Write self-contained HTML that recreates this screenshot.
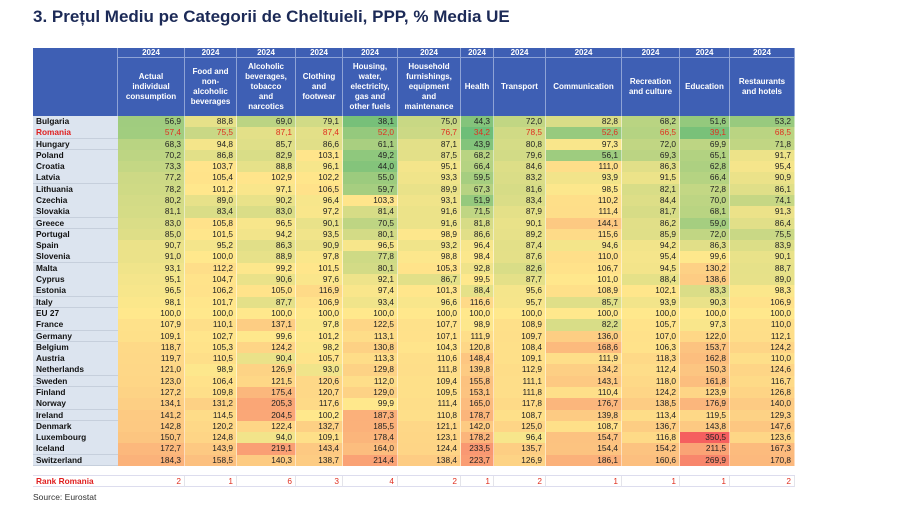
<!DOCTYPE html>
<html><head><meta charset="utf-8">
<style>
body{margin:0;width:900px;height:506px;background:#fff;position:relative;overflow:hidden;font-family:"Liberation Sans",sans-serif;}
.c{position:absolute;box-sizing:border-box;font-size:8.3px;line-height:11.3px;white-space:nowrap;overflow:hidden;}
.h{background:#3e5fb4;color:#fff;font-weight:bold;text-align:center;border-right:1px solid #8ea3d6;display:flex;align-items:center;justify-content:center;line-height:10px;font-size:8px;}
.n{background:#dce4ef;font-weight:bold;color:#111;padding-left:3px;border-bottom:1px solid #c6cfdc;}
.v{text-align:right;padding-right:3px;color:#222;border-right:1px solid rgba(255,255,255,0.5);}
#title{position:absolute;left:33px;top:7px;font-size:17px;font-weight:bold;color:#1c2a57;}
#src{position:absolute;left:33px;top:492px;font-size:8.5px;color:#333;}
</style></head><body>
<div id="title">3. Prețul Mediu pe Categorii de Cheltuieli, PPP, % Media UE</div>
<div id="t"></div>
<div id="src">Source: Eurostat</div>
<script>
var W=[85,67,52,59,47,55,63,33,52,76,58,50,65];
var H=["Actual<br>individual<br>consumption","Food and<br>non-<br>alcoholic<br>beverages","Alcoholic<br>beverages,<br>tobacco<br>and<br>narcotics","Clothing<br>and<br>footwear","Housing,<br>water,<br>electricity,<br>gas and<br>other fuels","Household<br>furnishings,<br>equipment<br>and<br>maintenance","Health","Transport","Communication","Recreation<br>and culture","Education","Restaurants<br>and hotels"];
var D=`Bulgaria 56,9 88,8 69,0 79,1 38,1 75,0 44,3 72,0 82,8 68,2 51,6 53,2
Romania 57,4 75,5 87,1 87,4 52,0 76,7 34,2 78,5 52,6 66,5 39,1 68,5
Hungary 68,3 94,8 85,7 86,6 61,1 87,1 43,9 80,8 97,3 72,0 69,9 71,8
Poland 70,2 86,8 82,9 103,1 49,2 87,5 68,2 79,6 56,1 69,3 65,1 91,7
Croatia 73,3 103,7 88,8 96,1 44,0 95,1 66,4 84,6 111,0 86,3 62,8 95,4
Latvia 77,2 105,4 102,9 102,2 55,0 93,3 59,5 83,2 93,9 91,5 66,4 90,9
Lithuania 78,2 101,2 97,1 106,5 59,7 89,9 67,3 81,6 98,5 82,1 72,8 86,1
Czechia 80,2 89,0 90,2 96,4 103,3 93,1 51,9 83,4 110,2 84,4 70,0 74,1
Slovakia 81,1 83,4 83,0 97,2 81,4 91,6 71,5 87,9 111,4 81,7 68,1 91,3
Greece 83,0 105,8 96,5 90,1 70,5 91,6 81,8 90,1 144,1 86,2 59,0 86,4
Portugal 85,0 101,5 94,2 93,5 80,1 98,9 86,6 89,2 115,6 85,9 72,0 75,5
Spain 90,7 95,2 86,3 90,9 96,5 93,2 96,4 87,4 94,6 94,2 86,3 83,9
Slovenia 91,0 100,0 88,9 97,8 77,8 98,8 98,4 87,6 110,0 95,4 99,6 90,1
Malta 93,1 112,2 99,2 101,5 80,1 105,3 92,8 82,6 106,7 94,5 130,2 88,7
Cyprus 95,1 104,7 90,6 97,6 92,1 86,7 99,5 87,7 101,0 88,4 138,6 89,0
Estonia 96,5 106,2 105,0 116,9 97,4 101,3 88,4 95,6 108,9 102,1 83,3 98,3
Italy 98,1 101,7 87,7 106,9 93,4 96,6 116,6 95,7 85,7 93,9 90,3 106,9
EU_27 100,0 100,0 100,0 100,0 100,0 100,0 100,0 100,0 100,0 100,0 100,0 100,0
France 107,9 110,1 137,1 97,8 122,5 107,7 98,9 108,9 82,2 105,7 97,3 110,0
Germany 109,1 102,7 99,6 101,2 113,1 107,1 111,9 109,7 136,0 107,0 122,0 112,1
Belgium 118,7 105,3 124,2 98,2 130,8 104,3 120,8 108,4 168,6 106,3 153,7 124,2
Austria 119,7 110,5 90,4 105,7 113,3 110,6 148,4 109,1 111,9 118,3 162,8 110,0
Netherlands 121,0 98,9 126,9 93,0 129,8 111,8 139,8 112,9 134,2 112,4 150,3 124,6
Sweden 123,0 106,4 121,5 120,6 112,0 109,4 155,8 111,1 143,1 118,0 161,8 116,7
Finland 127,2 109,8 175,4 120,7 129,0 109,5 153,1 111,8 110,4 124,2 123,9 126,8
Norway 134,1 131,2 205,3 117,6 99,9 111,4 165,0 117,8 176,7 138,5 176,9 140,0
Ireland 141,2 114,5 204,5 100,2 187,3 110,8 178,7 108,7 139,8 113,4 119,5 129,3
Denmark 142,8 120,2 122,4 132,7 185,5 121,1 142,0 125,0 108,7 136,7 143,8 147,6
Luxembourg 150,7 124,8 94,0 109,1 178,4 123,1 178,2 96,4 154,7 116,8 350,5 123,6
Iceland 172,7 143,9 219,1 143,4 164,0 124,4 233,5 135,7 154,4 154,2 211,5 167,3
Switzerland 184,3 158,5 140,3 138,7 214,4 138,4 223,7 126,9 186,1 160,6 269,9 170,8`.split("\n").map(function(l){return l.split(" ");});
var X=[33];for(var i=0;i<W.length;i++)X.push(X[i]+W[i]);
var out="";
function cell(x,y,w,h,cls,st,txt){out+='<div class="c '+cls+'" style="left:'+x+'px;top:'+y+'px;width:'+w+'px;height:'+h+'px;'+st+'">'+txt+'</div>';}
cell(33,48,85,10,"h","","");cell(33,58,85,58,"h","","");
for(var j=1;j<13;j++){cell(X[j],48,W[j],10,"h","border-bottom:1px solid #8ea3d6;","2024");cell(X[j],58,W[j],58,"h","",H[j-1]);}
function mix(a,b,t){return a.map(function(v,i){return Math.round(v+(b[i]-v)*t);});}
var G=[110,190,120],Y=[255,232,140],R=[245,95,95],mn=34.2,mx=350.5;
function col(v){var c=v<=100?mix(G,Y,(v-mn)/(100-mn)):mix(Y,R,Math.pow((v-100)/(mx-100),0.85));return "rgb("+c.join(",")+")";}
var rh=11.29;
D.forEach(function(r,i){var y=116+i*rh;var red=r[0]=="Romania";
cell(33,y,85,rh+0.5,"n",red?"color:#e02020;":"",r[0].replace("_"," "));
for(var j=1;j<13;j++){var v=parseFloat(r[j].replace(",","."));cell(X[j],y,W[j],rh+0.5,"v","background:"+col(v)+";"+(red?"color:#e03020;":""),r[j]);}});
var y2=116+31*rh;
cell(33,y2,762,10,"","border-bottom:1px solid #dde;background:#fff;","");
var rk=[2,1,6,3,4,2,1,2,1,1,1,2];
cell(33,y2+10,85,11,"n","background:#fff;color:#e02020;border-bottom:1px solid #dde;line-height:11px;","Rank Romania");
for(var j=1;j<13;j++)cell(X[j],y2+10,W[j],11,"v","color:#e03020;border-right:1px solid #e4e4ea;border-bottom:1px solid #dde;line-height:11px;",rk[j-1]);
document.getElementById("t").innerHTML=out;
</script>
</body></html>
